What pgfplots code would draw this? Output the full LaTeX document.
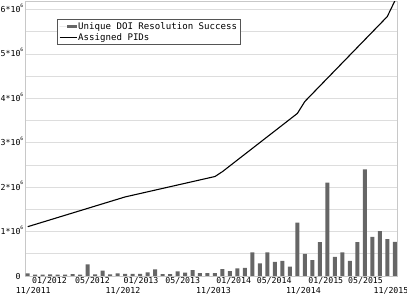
\documentclass[border=0pt]{standalone}
\usepackage{fontspec}
\setmainfont{DejaVu Sans Mono}
\usepackage{pgfplots}
\pgfplotsset{compat=1.18}
\definecolor{barc}{HTML}{666666}
\definecolor{gridc}{HTML}{DDDDDD}
\definecolor{framec}{HTML}{C8C8C8}
\definecolor{legc}{HTML}{555555}
\newcommand{\sx}[1]{#1*10\rlap{\smash{\raisebox{5.3bp}{\fontsize{4.6bp}{5bp}\selectfont 6}}}}
\begin{document}
\begin{tikzpicture}
\begin{axis}[
  name=ax,
  scale only axis,
  width=372bp, height=274.5bp,
  xmin=-0.36, xmax=49.3,
  ymin=0, ymax=6.18,
  axis line style={draw=framec, line width=0.8bp},
  tick style={draw=none},
  ytick={0,1,2,3,4,5,6},
  minor ytick={0.5,1.5,2.5,3.5,4.5,5.5},
  yticklabels={0,\sx{1},\sx{2},\sx{3},\sx{4},\sx{5},\sx{6}},
  ymajorgrids, yminorgrids,
  major grid style={draw=gridc, line width=0.8bp},
  minor grid style={draw=gridc, line width=0.8bp},
  yticklabel style={inner sep=0pt, xshift=-4.3bp, font=\fontsize{8.24bp}{10bp}\selectfont},
  xtick={2.91,8.65,15.13,20.7,27.5,32.9,39.8,45.1},
  xticklabels={01/2012,05/2012,01/2013,05/2013,01/2014,05/2014,01/2015,05/2015},
  extra x ticks={0.75,12.72,24.8,36.8,48.5},
  extra x tick labels={11/2011,11/2012,11/2013,11/2014,11/2015},
  extra x tick style={xticklabel style={yshift=-10bp}},
  xticklabel style={inner sep=0pt, yshift=-1.5bp, text height=6bp, text depth=0bp, font=\fontsize{8.24bp}{10bp}\selectfont},
  legend style={at={(0.085,0.9345)}, anchor=north west, draw=legc, line width=0.7bp,
    inner xsep=2bp, inner ysep=1.8bp, row sep=0pt, column sep=0pt,
    font=\fontsize{9.1bp}{11bp}\selectfont,
    nodes={inner sep=1bp, text height=6.8bp, text depth=1.9bp}},
  legend cell align=left,
]
\addplot[ybar, bar width=4bp, fill=barc, draw=none,
  legend image code/.code={\path (-7bp,0) -- (0bp,0); \fill[barc] (0bp,-1.5bp) rectangle (10.7bp,1.5bp);}]
coordinates {
(0,0.06) (1,0.03) (2,0.03) (3,0.035) (4,0.03) (5,0.03) (6,0.045) (7,0.03)
(8,0.26) (9,0.035) (10,0.12) (11,0.035) (12,0.06) (13,0.05) (14,0.05) (15,0.05)
(16,0.08) (17,0.15) (18,0.045) (19,0.045) (20,0.105) (21,0.075) (22,0.13) (23,0.065)
(24,0.065) (25,0.065) (26,0.155) (27,0.11) (28,0.17) (29,0.185) (30,0.53) (31,0.285)
(32,0.53) (33,0.32) (34,0.34) (35,0.21) (36,1.2) (37,0.5) (38,0.36) (39,0.76)
(40,2.1) (41,0.43) (42,0.53) (43,0.34) (44,0.76) (45,2.4) (46,0.88) (47,1.01)
(48,0.83) (49,0.77)
};
\addlegendentry{Unique DOI Resolution Success}
\addplot[black, line width=1.1bp,
  legend image code/.code={\path (-7bp,0) -- (0bp,0); \draw[black, line width=1.1bp] (0bp,0) -- (10bp,0);}]
coordinates {
(0,1.11) (13,1.78) (25,2.24) (26,2.35) (36,3.66) (37,3.93) (48,5.84) (49,6.19)
};
\addlegendentry{Assigned PIDs}
\end{axis}
\pgfresetboundingbox
\path ([shift={(-25bp,-19bp)}]ax.south west) rectangle ([shift={(10bp,1.5bp)}]ax.north east);
\end{tikzpicture}
\end{document}
